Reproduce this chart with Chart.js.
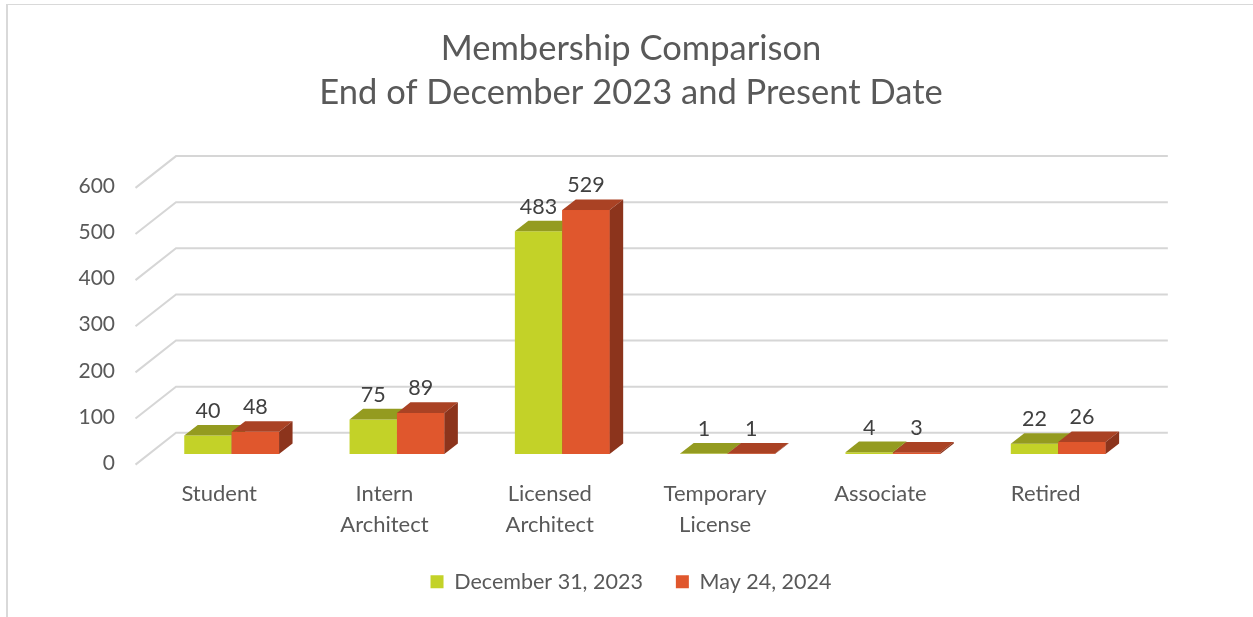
<!DOCTYPE html>
<html><head><meta charset="utf-8">
<script src="https://cdn.jsdelivr.net/npm/chart.js@4.4.0/dist/chart.umd.min.js"></script>
<style>
html,body{margin:0;padding:0;background:#fff;overflow:hidden}
#wrap{position:relative;width:1253px;height:617px;overflow:hidden}
#frame{position:absolute;left:6px;top:4px;width:1400px;height:800px;border-top:1px solid #d9d9d9;border-left:2px solid #d9d9d9}
canvas{position:absolute;left:0;top:0}
</style></head><body>
<div id="wrap"><div id="frame"></div><canvas id="c" width="1253" height="617"></canvas></div>
<script>
const categories = ['Student', ['Intern', 'Architect'], ['Licensed', 'Architect'], ['Temporary', 'License'], 'Associate', 'Retired'];
const seriesNames = ['December 31, 2023', 'May 24, 2024'];
const dec2023 = [40, 75, 483, 1, 4, 22];
const may2024 = [48, 89, 529, 1, 3, 26];
const yMin = 0, yMax = 600, yStep = 100;
const chartTitle = ['Membership Comparison', 'End of December 2023 and Present Date'];

const DX = 13.5, DY = 10.6;
const FONT = 'Lato';

const wall3d = {
  id: 'wall3d',
  beforeDatasetsDraw(chart) {
    const {ctx, chartArea: ca, scales: {y}} = chart;
    ctx.save();
    ctx.strokeStyle = '#d6d6d6';
    ctx.lineWidth = 2;
    y.ticks.forEach(t => {
      const p = y.getPixelForValue(t.value);
      ctx.beginPath();
      ctx.moveTo(ca.left - DX, p + DY);
      ctx.lineTo(ca.left + 2 * DX, p - 2 * DY);
      ctx.lineTo(ca.right + 2 * DX, p - 2 * DY);
      ctx.stroke();
    });
    ctx.restore();
  },
  afterDatasetsDraw(chart) {
    const ctx = chart.ctx;
    ctx.save();
    chart.data.datasets.forEach((ds, i) => {
      chart.getDatasetMeta(i).data.forEach(bar => {
        const {x, y, base, width} = bar.getProps(['x', 'y', 'base', 'width'], true);
        const l = x - width / 2, r = x + width / 2;
        if (i > 0) {
          ctx.fillStyle = ds.backgroundColor;
          ctx.fillRect(l, Math.min(y, base), width, Math.abs(base - y));
        }
        ctx.fillStyle = ds.topColor;
        ctx.beginPath();
        ctx.moveTo(l, y); ctx.lineTo(l + DX, y - DY); ctx.lineTo(r + DX, y - DY); ctx.lineTo(r, y);
        ctx.closePath(); ctx.fill();
        ctx.fillStyle = ds.sideColor;
        ctx.beginPath();
        ctx.moveTo(r, y); ctx.lineTo(r + DX, y - DY); ctx.lineTo(r + DX, base - DY); ctx.lineTo(r, base);
        ctx.closePath(); ctx.fill();
      });
    });
    ctx.restore();
  }
};

const valueLabels = {
  id: 'valueLabels',
  afterDatasetsDraw(chart) {
    const ctx = chart.ctx;
    ctx.save();
    ctx.font = '21.5px ' + FONT;
    ctx.fillStyle = '#404040';
    ctx.textAlign = 'center';
    ctx.textBaseline = 'middle';
    chart.data.datasets.forEach((ds, i) => {
      chart.getDatasetMeta(i).data.forEach((bar, j) => {
        ctx.fillText(String(ds.data[j]), bar.x, bar.y - 24.5);
      });
    });
    ctx.restore();
  }
};

function build() {
  new Chart(document.getElementById('c'), {
    type: 'bar',
    data: {
      labels: categories,
      datasets: [
        {label: seriesNames[0], data: dec2023, backgroundColor: '#C3D228', topColor: '#949B20', sideColor: '#7D8419', borderWidth: 0,
         categoryPercentage: 0.5735, barPercentage: 1},
        {label: seriesNames[1], data: may2024, backgroundColor: '#E0572D', topColor: '#AA4224', sideColor: '#8C341C', borderWidth: 0,
         categoryPercentage: 0.5735, barPercentage: 1}
      ]
    },
    options: {
      responsive: false,
      animation: false,
      layout: {padding: {left: 9, right: 0, top: 0, bottom: 14.5}},
      plugins: {
        title: {display: true, text: chartTitle, color: '#595959',
                font: {family: FONT, size: 34.5, weight: 'normal', lineHeight: 1.3},
                padding: {top: 26, bottom: 61.6}},
        legend: {position: 'bottom',
                 labels: {boxWidth: 13, boxHeight: 13, color: '#595959', padding: 33,
                          font: {family: FONT, size: 21.5}}},
        tooltip: {enabled: false}
      },
      scales: {
        x: {type: 'category', offset: true,
            grid: {display: false, drawTicks: false}, border: {display: false},
            ticks: {color: '#595959', font: {family: FONT, size: 22, lineHeight: 1.38},
                    labelOffset: -12.5, padding: 25, maxRotation: 0, autoSkip: false},
            afterFit(s) { s.height = 84; }},
        y: {min: yMin, max: yMax,
            grid: {display: false, drawTicks: false}, border: {display: false},
            ticks: {stepSize: yStep, color: '#595959', font: {family: FONT, size: 21}, padding: 34, labelOffset: 9},
            afterFit(s) { s.width = 140; }},
        yRight: {type: 'linear', position: 'right', display: true,
            grid: {display: false, drawTicks: false}, border: {display: false},
            ticks: {display: false},
            afterFit(s) { s.width = 112.15; }}
      }
    },
    plugins: [wall3d, valueLabels]
  });
}
if (document.fonts && document.fonts.load) {
  Promise.all([document.fonts.load('21px Lato'), document.fonts.load('32px Lato')]).then(build, build);
} else build();
</script>
</body></html>
